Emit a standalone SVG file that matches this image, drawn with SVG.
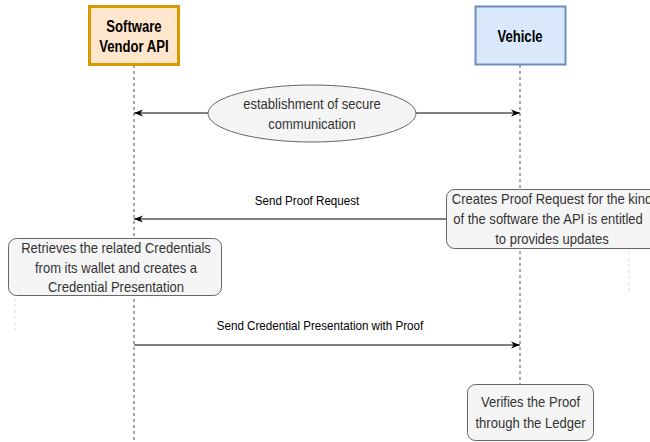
<svg xmlns="http://www.w3.org/2000/svg" width="650" height="442" viewBox="0 0 650 442">
<style>
  .t { font-family: "Liberation Sans", Arial, sans-serif; font-size: 14.8px; fill: #333333; text-anchor: middle; }
  .lbl { font-family: "Liberation Sans", Arial, sans-serif; font-size: 13.2px; fill: #000000; text-anchor: middle; }
  .hd { font-family: "Liberation Sans", Arial, sans-serif; font-size: 15.6px; font-weight: bold; fill: #000000; text-anchor: middle; }
  .life { stroke: #555555; stroke-width: 1; stroke-dasharray: 3 3; fill: none; }
  .faint { stroke: #dddddd; stroke-width: 1; stroke-dasharray: 3 3; fill: none; }
  .note { fill: #f5f5f5; stroke: #666666; stroke-width: 1; }
  .msg { stroke: #000000; stroke-width: 1; fill: none; marker-end: url(#arr); }
</style>
<defs>
  <marker id="arr" viewBox="0 0 10 8" refX="10" refY="4" markerWidth="9" markerHeight="7.5" markerUnits="userSpaceOnUse" orient="auto-start-reverse">
    <path d="M0,0 L10,4 L0,8 L3,4 z" fill="#000000"/>
  </marker>
</defs>
<rect width="650" height="442" fill="#ffffff"/>

<g id="vendor">
  <line class="life" x1="134" y1="65" x2="134" y2="442"/>
  <rect x="89.5" y="6.5" width="89" height="58" fill="#ffe6cc" stroke="#d79b00" stroke-width="3"/>
  <text class="hd" transform="translate(134 32.3) scale(0.84 1)">Software</text>
  <text class="hd" transform="translate(134 51.7) scale(0.84 1)">Vendor API</text>
</g>

<g id="vehicle">
  <line class="life" x1="520" y1="65" x2="520" y2="442"/>
  <rect x="475.5" y="6.5" width="90" height="58" fill="#dae8fc" stroke="#6c8ebf" stroke-width="2"/>
  <text class="hd" transform="translate(520 42) scale(0.84 1)">Vehicle</text>
</g>

<g id="artifacts">
  <line class="faint" x1="629" y1="246" x2="629" y2="292"/>
  <line class="faint" x1="15" y1="298" x2="15" y2="330"/>
</g>

<g id="connectors">
  <line class="msg" x1="208" y1="113" x2="134" y2="113"/>
  <line class="msg" x1="416" y1="113" x2="520" y2="113"/>
  <line class="msg" x1="446" y1="219" x2="134" y2="219"/>
  <text class="lbl" transform="translate(307 205) scale(0.88 1)">Send Proof Request</text>
  <line class="msg" x1="134" y1="345" x2="520" y2="345"/>
  <text class="lbl" transform="translate(320 330) scale(0.88 1)">Send Credential Presentation with Proof</text>
</g>

<g id="secure">
  <ellipse cx="312" cy="113.5" rx="104" ry="28.5" fill="#f5f5f5" stroke="#666666" stroke-width="1"/>
  <text class="t" transform="translate(312 109) scale(0.88 1)">establishment of secure</text>
  <text class="t" transform="translate(312 129) scale(0.88 1)">communication</text>
</g>

<g id="createRequest">
  <rect class="note" x="446.5" y="189.5" width="212" height="59" rx="8"/>
  <text class="t" transform="translate(552 204) scale(0.88 1)">Creates Proof Request for the kind</text>
  <text class="t" transform="translate(548 224) scale(0.88 1)">of the software the API is entitled</text>
  <text class="t" transform="translate(552 244) scale(0.88 1)">to provides updates</text>
</g>

<g id="retrieve">
  <rect class="note" x="8.5" y="238.5" width="213" height="57" rx="8"/>
  <text class="t" transform="translate(116 253) scale(0.88 1)">Retrieves the related Credentials</text>
  <text class="t" transform="translate(116 272.5) scale(0.88 1)">from its wallet and creates a</text>
  <text class="t" transform="translate(116 292) scale(0.88 1)">Credential Presentation</text>
</g>

<g id="verify">
  <rect class="note" x="467.5" y="384.5" width="126" height="56" rx="8"/>
  <text class="t" transform="translate(530.5 407) scale(0.88 1)">Verifies the Proof</text>
  <text class="t" transform="translate(530.5 428) scale(0.88 1)">through the Ledger</text>
</g>
</svg>
